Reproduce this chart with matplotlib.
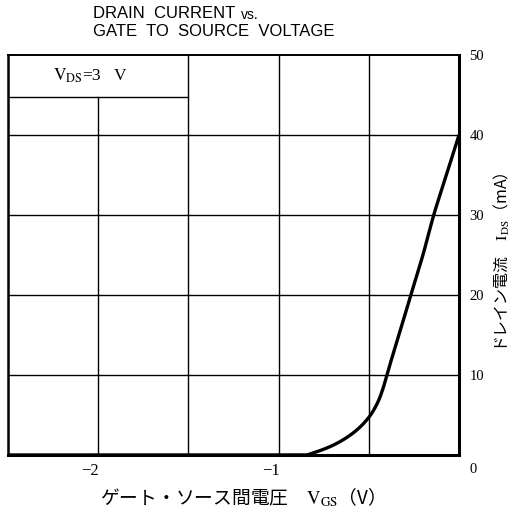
import matplotlib
matplotlib.use("Agg")
import matplotlib.pyplot as plt
import numpy as np
from matplotlib.transforms import ScaledTranslation

# ---- data ----
vgs = [-2.5, -0.85, -0.81, -0.70, -0.59, -0.50, -0.45, -0.42, -0.40, -0.333, -0.267, -0.20, -0.14, -0.07, 0.0]
ids = [0.0, 0.0, 0.25, 1.2, 2.7, 4.7, 6.6, 8.4, 10.0, 15.0, 20.0, 25.0, 30.0, 35.0, 40.0]
x_ticks = [-2, -1]
x_ticklabels = ["\u22122", "\u22121"]
y_ticks = [0, 10, 20, 30, 40, 50]
y_ticklabels = ["0", "10", "20", "30", "40", "50"]
v_grid = [-2.0, -1.5, -1.0, -0.5]
h_grid = [10, 20, 30, 40]
box_bottom = 44.7
title_line1 = "DRAIN  CURRENT"
title_vs = "vs."
title_line2 = "GATE  TO  SOURCE  VOLTAGE"
xlabel = "ゲート・ソース間電圧　$\\mathrm{V_{GS}}$（V）"
ylabel = "ドレイン電流　$\\mathrm{I_{DS}}$（mA）"
cond = "$\\mathrm{V_{DS}}$=3   V"

plt.rcParams['font.family'] = ['Liberation Serif', 'Noto Sans CJK JP', 'DejaVu Sans']
plt.rcParams['mathtext.fontset'] = 'stix'

W, H = 514, 512
fig = plt.figure(figsize=(W / 100, H / 100), dpi=100)
ax = fig.add_axes([8 / W, 1 - 455 / H, 451 / W, 400 / H])
ax.set_xlim(-2.5, 0)
ax.set_ylim(0, 50)

# grid
for xv in v_grid:
    top = box_bottom if xv == -2.0 else 50
    ax.plot([xv, xv], [0, top], color='black', lw=1.0, zorder=1)
for yv in h_grid:
    ax.axhline(yv, color='black', lw=1.0, zorder=1)
ax.plot([-2.5, -1.5], [box_bottom, box_bottom], color='black', lw=1.0, zorder=1)

# curve (smooth monotone interpolation through read points)
xs = np.array(vgs)
ys = np.array(ids)
def pchip(x, y, xn):
    h = np.diff(x); d = np.diff(y) / h
    m = np.zeros_like(y)
    for k in range(1, len(x) - 1):
        if d[k - 1] * d[k] > 0:
            w1 = 2 * h[k] + h[k - 1]; w2 = h[k] + 2 * h[k - 1]
            m[k] = (w1 + w2) / (w1 / d[k - 1] + w2 / d[k])
    m[0] = d[0]; m[-1] = d[-1]
    out = np.empty_like(xn)
    for i, xv in enumerate(xn):
        k = min(max(np.searchsorted(x, xv) - 1, 0), len(x) - 2)
        t = (xv - x[k]) / h[k]
        h00 = 2 * t**3 - 3 * t**2 + 1; h10 = t**3 - 2 * t**2 + t
        h01 = -2 * t**3 + 3 * t**2; h11 = t**3 - t**2
        out[i] = h00 * y[k] + h10 * h[k] * m[k] + h01 * y[k + 1] + h11 * h[k] * m[k + 1]
    return out
xn = np.linspace(xs[0], xs[-1], 800)
ax.plot(xn, pchip(xs, ys, xn), color='black', lw=2.4, zorder=3, clip_on=False,
        solid_capstyle='butt')

# spines
for side, lw in [('bottom', 2.2), ('left', 1.8), ('right', 2.2), ('top', 1.4)]:
    ax.spines[side].set_linewidth(lw)
    ax.spines[side].set_zorder(4)

# ticks
ax.set_xticks(x_ticks)
ax.set_xticklabels(x_ticklabels, fontsize=12)
ax.tick_params(axis='x', length=0, pad=6)
for lab in ax.get_xticklabels():
    lab.set_transform(lab.get_transform() + ScaledTranslation(-8 / 100, 0, fig.dpi_scale_trans))

ax.yaxis.tick_right()
ax.set_yticks(y_ticks)
ax.set_yticklabels(y_ticklabels, fontsize=10.5)
ax.tick_params(axis='y', length=0, pad=7.5)
for lab, t in zip(ax.get_yticklabels(), y_ticks):
    dy = -13 if t == 0 else 0
    lab.set_transform(lab.get_transform() + ScaledTranslation(0, dy / 100, fig.dpi_scale_trans))

# condition label
ax.text(-2.04, 47.4, cond, ha='center', va='center', fontsize=12.5)

# axis labels
fig.text(238 / W, 1 - 497 / H, xlabel, ha='center', va='center', fontsize=13.5,
         family=['Noto Sans CJK JP', 'DejaVu Sans'])
fig.text(502 / W, 1 - 262 / H, ylabel, ha='center', va='center', fontsize=11.5,
         rotation=90, family=['Noto Sans CJK JP', 'DejaVu Sans'])

# title
fig.text(93 / W, 1 - 14 / H, title_line1, ha='left', va='center', fontsize=12,
         family='Liberation Sans')
fig.text(241 / W, 1 - 15 / H, title_vs, ha='left', va='center', fontsize=10,
         family='Liberation Sans')
fig.text(93 / W, 1 - 32 / H, title_line2, ha='left', va='center', fontsize=12,
         family='Liberation Sans')

fig.savefig("out.png", dpi=100)
